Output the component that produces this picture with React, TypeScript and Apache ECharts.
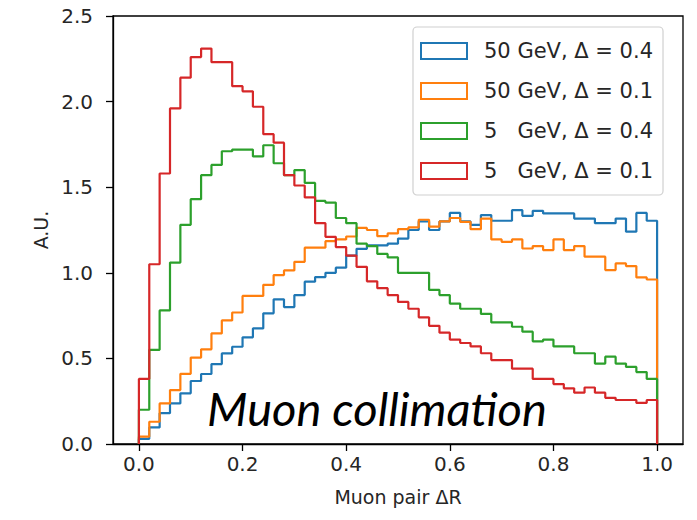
import React, { useEffect, useRef } from "react";
import * as echarts from "echarts";

const BIN_WIDTH = 0.02;

const seriesNames = [
  "50 GeV, \u0394 = 0.4",
  "50 GeV, \u0394 = 0.1",
  "5   GeV, \u0394 = 0.4",
  "5   GeV, \u0394 = 0.1",
];
const seriesColors = ["#1f77b4", "#ff7f0e", "#2ca02c", "#d62728"];

const blue50_04 = [
  0.03, 0.097, 0.18, 0.237, 0.296, 0.368, 0.409, 0.467, 0.529, 0.568,
  0.623, 0.675, 0.763, 0.845, 0.8, 0.87, 0.948, 0.975, 1.0, 1.03,
  1.1, 1.14, 1.16, 1.16, 1.17, 1.2, 1.25, 1.3, 1.25, 1.3,
  1.35, 1.3, 1.28, 1.337, 1.304, 1.304, 1.366, 1.333, 1.362, 1.347,
  1.347, 1.347, 1.317, 1.317, 1.29, 1.29, 1.317, 1.24, 1.35, 1.304,
];
const orange50_01 = [
  0.043, 0.13, 0.237, 0.315, 0.41, 0.505, 0.553, 0.646, 0.722, 0.768,
  0.865, 0.865, 0.93, 0.987, 1.014, 1.064, 1.147, 1.147, 1.185, 1.195,
  1.212, 1.262, 1.25, 1.214, 1.23, 1.255, 1.265, 1.31, 1.27, 1.3,
  1.32, 1.298, 1.255, 1.317, 1.195, 1.181, 1.195, 1.142, 1.156, 1.133,
  1.195, 1.133, 1.156, 1.094, 1.094, 1.016, 1.055, 1.039, 0.973, 0.961,
];
const green5_04 = [
  0.2, 0.55, 0.78, 1.06, 1.28, 1.43, 1.57, 1.63, 1.71, 1.72,
  1.72, 1.68, 1.745, 1.64, 1.57, 1.6, 1.525, 1.42, 1.41, 1.32,
  1.29, 1.17, 1.156, 1.11, 1.09, 1.0, 1.0, 1.0, 0.9, 0.87,
  0.82, 0.79, 0.79, 0.76, 0.71, 0.71, 0.685, 0.656, 0.6, 0.61,
  0.57, 0.57, 0.53, 0.53, 0.47, 0.51, 0.47, 0.45, 0.42, 0.38,
];
const red5_01 = [
  0.38, 1.05, 1.58, 1.96, 2.14, 2.26, 2.31, 2.23, 2.23, 2.09,
  2.06, 1.97, 1.81, 1.76, 1.57, 1.51, 1.44, 1.29, 1.21, 1.15,
  1.1, 1.035, 0.95, 0.91, 0.87, 0.83, 0.79, 0.74, 0.69, 0.65,
  0.61, 0.59, 0.57, 0.53, 0.49, 0.49, 0.44, 0.44, 0.38, 0.38,
  0.35, 0.325, 0.3, 0.33, 0.3, 0.27, 0.257, 0.257, 0.24, 0.257,
];

const xTicks = [0, 0.2, 0.4, 0.6, 0.8, 1.0];
const yTicks = [0, 0.5, 1.0, 1.5, 2.0, 2.5];

const allValues = [blue50_04, orange50_01, green5_04, red5_01];

function stepData(values: number[]): number[][] {
  const pts: number[][] = [[0, 0]];
  values.forEach((v, i) => {
    pts.push([+(i * BIN_WIDTH).toFixed(4), v]);
  });
  const end = +(values.length * BIN_WIDTH).toFixed(4);
  pts.push([end, values[values.length - 1]]);
  pts.push([end, 0]);
  return pts;
}

const FONT = "DejaVu Sans";
const TEXT_COLOR = "#262626";

export default function App() {
  const ref = useRef<HTMLDivElement>(null);
  useEffect(() => {
    if (!ref.current) return;
    const chart = echarts.init(ref.current, undefined, { renderer: "svg" });
    const option: any = {
      animation: false,
      backgroundColor: "#ffffff",
      grid: {
        left: 113,
        right: 14,
        top: 16,
        bottom: 76,
        show: true,
        borderColor: "#000",
        borderWidth: 1.3,
        backgroundColor: "transparent",
      },
      xAxis: {
        type: "value",
        min: -0.05,
        max: 1.05,
        name: "Muon pair \u0394R",
        nameLocation: "middle",
        nameGap: 43,
        nameTextStyle: { fontFamily: FONT, fontSize: 19, color: TEXT_COLOR },
        axisLine: { show: true, onZero: false, lineStyle: { color: "#000", width: 1.3 } },
        axisTick: { show: true, length: 7, customValues: xTicks, lineStyle: { color: "#000", width: 1.3 } },
        axisLabel: {
          show: true,
          customValues: xTicks,
          formatter: (v: number) => v.toFixed(1),
          fontFamily: FONT,
          fontSize: 20,
          color: TEXT_COLOR,
          margin: 10,
        },
        splitLine: { show: false },
      },
      yAxis: {
        type: "value",
        min: 0,
        max: 2.5,
        interval: 0.5,
        name: "A.U.",
        nameLocation: "middle",
        nameGap: 62,
        nameRotate: 90,
        nameTextStyle: { fontFamily: FONT, fontSize: 19, color: TEXT_COLOR },
        axisLine: { show: true, onZero: false, lineStyle: { color: "#000", width: 1.3 } },
        axisTick: { show: true, length: 7, lineStyle: { color: "#000", width: 1.3 } },
        axisLabel: {
          show: true,
          customValues: yTicks,
          formatter: (v: number) => v.toFixed(1),
          fontFamily: FONT,
          fontSize: 20,
          color: TEXT_COLOR,
          margin: 20,
        },
        splitLine: { show: false },
      },
      legend: {
        orient: "vertical",
        left: 413,
        top: 27,
        width: 256,
        padding: [13, 10, 13, 7],
        itemGap: 18,
        itemWidth: 46,
        itemHeight: 16,
        icon: "rect",
        backgroundColor: "rgba(255,255,255,0.85)",
        borderColor: "#d0d0d0",
        borderWidth: 1.2,
        borderRadius: 4,
        textStyle: { fontFamily: FONT, fontSize: 21, color: TEXT_COLOR, padding: [0, 0, 0, 12], lineHeight: 22 },
        data: seriesNames.map((n, i) => ({
          name: n,
          icon: "rect",
          itemStyle: { color: "rgba(255,255,255,0)", borderColor: seriesColors[i], borderWidth: 2 },
        })),
      },
      graphic: [
        {
          type: "text",
          left: 207,
          top: 384,
          z: 100,
          style: {
            text: "Muon collimation",
            font: "italic 47px Lato",
            fill: "#000",
          },
        },
      ],
      series: allValues.map((vals, i) => ({
        name: seriesNames[i],
        type: "line",
        step: "end",
        symbol: "none",
        showSymbol: false,
        data: stepData(vals),
        lineStyle: { color: seriesColors[i], width: 2.2 },
        itemStyle: { color: seriesColors[i] },
        z: 2 + i,
      })),
    };
    chart.setOption(option);
    return () => chart.dispose();
  }, []);
  return (
    <div
      ref={ref}
      style={{ position: "fixed", left: 0, top: 0, width: 697, height: 520, background: "#fff" }}
    />
  );
}
